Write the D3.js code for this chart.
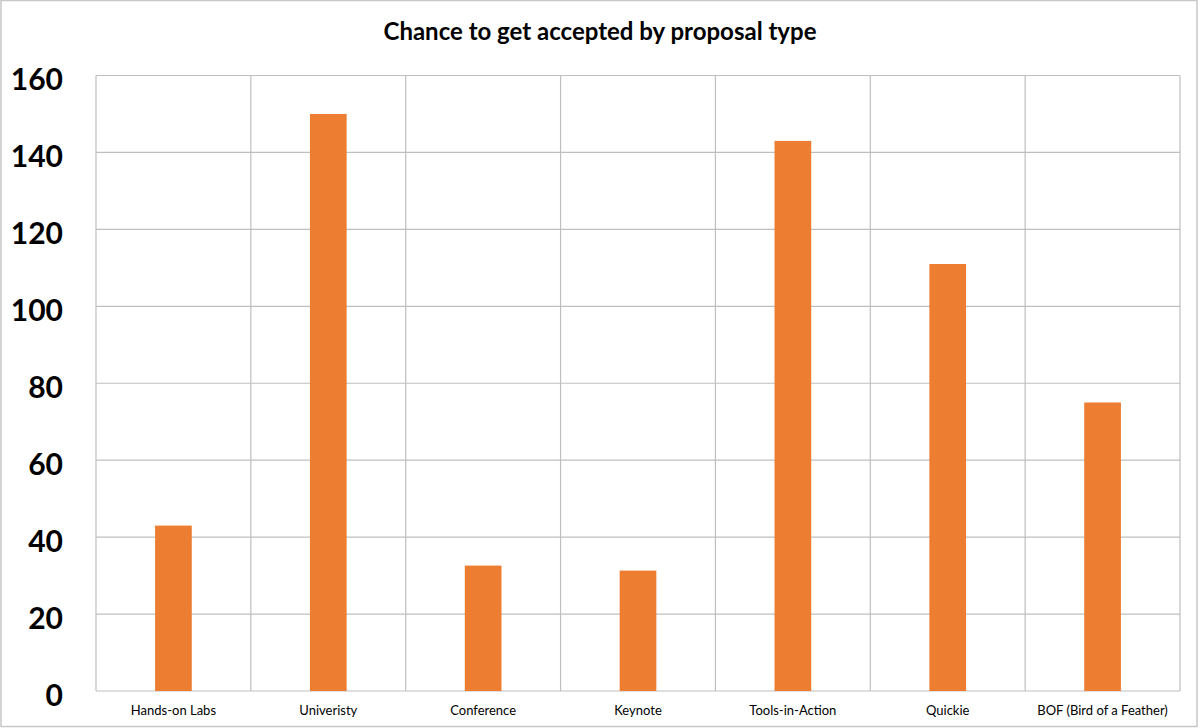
<!DOCTYPE html>
<html>
<head>
<meta charset="utf-8">
<script src="https://cdn.jsdelivr.net/npm/d3@7"></script>
<style>
    body { margin: 0; background: #fff; }
    text { font-family: Lato, "Open Sans", sans-serif; }
</style>
</head>
<body>
<div id="chart"></div>
<script>
// proposal types and values
const categories = ["Hands-on Labs", "Univeristy", "Conference", "Keynote", "Tools-in-Action", "Quickie", "BOF (Bird of a Feather)"];
const values = [43, 150, 32.6, 31.3, 143, 111, 75];
const yTicks = [0, 20, 40, 60, 80, 100, 120, 140, 160];

let margin = {top: 75.5, right: 20, bottom: 37, left: 96};
let W = 1200, H = 728;
let width = 1180 - margin.left, height = 691 - margin.top;

let svg = d3.select("#chart").append("svg")
    .attr("width", W)
    .attr("height", H);

// outer chart border
svg.append("rect")
    .attr("x", 1).attr("y", 0.5)
    .attr("width", W - 4).attr("height", H - 2)
    .attr("fill", "#fff")
    .attr("stroke", "#c8c8c8")
    .attr("stroke-width", 1.5);

svg.append("text")
    .attr("x", 600)
    .attr("y", 40)
    .attr("text-anchor", "middle")
    .attr("font-size", "24px")
    .attr("font-weight", "bold")
    .text("Chance to get accepted by proposal type");

let g = svg.append("g")
    .attr("transform", "translate(" + margin.left + "," + margin.top + ")");

let x = d3.scaleBand()
    .domain(categories)
    .range([0, width]);

let y = d3.scaleLinear()
    .domain([0, 160])
    .range([height, 0]);

// horizontal gridlines
g.selectAll(".hgrid")
    .data(yTicks)
    .enter().append("line")
    .attr("class", "hgrid")
    .attr("x1", 0).attr("x2", width)
    .attr("y1", d => y(d)).attr("y2", d => y(d))
    .attr("stroke", "#bfbfbf")
    .attr("stroke-width", 1.2);

// vertical gridlines at category edges
let edges = categories.map(c => x(c)).concat([width]);
g.selectAll(".vgrid")
    .data(edges)
    .enter().append("line")
    .attr("class", "vgrid")
    .attr("x1", d => d).attr("x2", d => d)
    .attr("y1", 0).attr("y2", height)
    .attr("stroke", "#bfbfbf")
    .attr("stroke-width", 1.2);

// bars
let barW = x.bandwidth() * 0.237;
g.selectAll(".bar")
    .data(values)
    .enter().append("rect")
    .attr("class", "bar")
    .attr("x", (d, i) => x(categories[i]) + x.bandwidth() / 2 - barW / 2)
    .attr("y", d => y(d))
    .attr("width", barW)
    .attr("height", d => height - y(d))
    .attr("fill", "#ED7D31");

// y labels
g.selectAll(".ylab")
    .data(yTicks)
    .enter().append("text")
    .attr("class", "ylab")
    .attr("x", -33)
    .attr("y", d => y(d) + 4)
    .attr("dy", "0.35em")
    .attr("text-anchor", "end")
    .attr("font-size", "30px")
    .attr("font-weight", "bold")
    .text(d => d);

// category labels
g.selectAll(".xlab")
    .data(categories)
    .enter().append("text")
    .attr("class", "xlab")
    .attr("x", d => x(d) + x.bandwidth() / 2)
    .attr("y", height + 19)
    .attr("dy", "0.35em")
    .attr("text-anchor", "middle")
    .attr("font-size", "13px")
    .text(d => d);
</script>
</body>
</html>
